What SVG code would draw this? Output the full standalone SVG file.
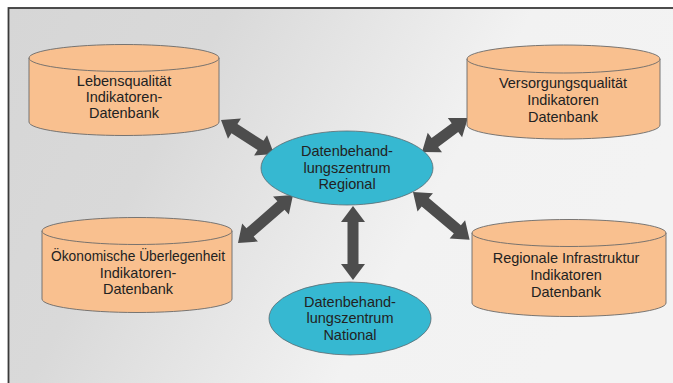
<svg xmlns="http://www.w3.org/2000/svg" width="673" height="383" viewBox="0 0 673 383">
<style>
.cyl{fill:#f9c08f;stroke:#6a6a6a;stroke-width:0.9}
.ell{fill:#36b8d1;stroke:#5a6a70;stroke-width:0.8}
.t{font-family:"Liberation Sans",Arial,sans-serif;font-size:14.5px;fill:#222;text-anchor:middle}
.arr{fill:#4d4d4d}
</style>
<defs>
<linearGradient id="bg" x1="0" y1="0" x2="1" y2="0.3">
<stop offset="0" stop-color="#d6d6d6"/>
<stop offset="0.3" stop-color="#d9d9d9"/>
<stop offset="0.72" stop-color="#f2f2f2"/>
<stop offset="1" stop-color="#f3f3f3"/>
</linearGradient>
</defs>
<rect x="0" y="0" width="673" height="383" fill="#ffffff"/>
<rect x="8.5" y="8" width="670" height="380" fill="url(#bg)" stroke="#3a3a3a" stroke-width="1.8"/>

<g id="connectors">
<path class="arr" transform="translate(221,120) rotate(32.7)" d="M0,0 L16,-12 L16,-5.5 L47,-5.5 L47,-12 L63,0 L47,12 L47,5.5 L16,5.5 L16,12 Z"/>
<path class="arr" transform="translate(422,152) rotate(-36.5)" d="M0,0 L16,-12 L16,-5.5 L41,-5.5 L41,-12 L57,0 L41,12 L41,5.5 L16,5.5 L16,12 Z"/>
<path class="arr" transform="translate(293,195) rotate(138.9)" d="M0,0 L16,-12 L16,-5.5 L57,-5.5 L57,-12 L73,0 L57,12 L57,5.5 L16,5.5 L16,12 Z"/>
<path class="arr" transform="translate(353,206) rotate(90)" d="M0,0 L16,-12 L16,-5.5 L58,-5.5 L58,-12 L74,0 L58,12 L58,5.5 L16,5.5 L16,12 Z"/>
<path class="arr" transform="translate(413,192) rotate(40.1)" d="M0,0 L16,-12 L16,-5.5 L58,-5.5 L58,-12 L74,0 L58,12 L58,5.5 L16,5.5 L16,12 Z"/>
</g>

<g id="lebensqualitaet">
<path class="cyl" d="M29,58 L29,122 A95,13.5 0 0 0 219,122 L219,58 Z"/>
<ellipse class="cyl" cx="124" cy="58" rx="95" ry="13.5"/>
<text class="t" x="124" y="86">Lebensqualität</text>
<text class="t" x="124" y="102">Indikatoren-</text>
<text class="t" x="124" y="118">Datenbank</text>
</g>

<g id="versorgungsqualitaet">
<path class="cyl" d="M467,59 L467,125 A96.5,14 0 0 0 660,125 L660,59 Z"/>
<ellipse class="cyl" cx="563.5" cy="59" rx="96.5" ry="14"/>
<text class="t" x="563" y="88">Versorgungsqualität</text>
<text class="t" x="563" y="105">Indikatoren</text>
<text class="t" x="563" y="122">Datenbank</text>
</g>

<g id="oekonomische">
<path class="cyl" d="M42,231 L42,299 A95,13.5 0 0 0 232,299 L232,231 Z"/>
<ellipse class="cyl" cx="137" cy="231" rx="95" ry="13.5"/>
<text class="t" x="138" y="261" textLength="174" lengthAdjust="spacingAndGlyphs">Ökonomische Überlegenheit</text>
<text class="t" x="138" y="278">Indikatoren-</text>
<text class="t" x="138" y="294">Datenbank</text>
</g>

<g id="infrastruktur">
<path class="cyl" d="M472,233 L472,303 A97,13.5 0 0 0 666,303 L666,233 Z"/>
<ellipse class="cyl" cx="569" cy="233" rx="97" ry="13.5"/>
<text class="t" x="566" y="263">Regionale Infrastruktur</text>
<text class="t" x="566" y="280">Indikatoren</text>
<text class="t" x="566" y="297">Datenbank</text>
</g>

<g id="regional">
<ellipse class="ell" cx="347" cy="168" rx="86" ry="37"/>
<text class="t" x="347" y="156">Datenbehand-</text>
<text class="t" x="347" y="173">lungszentrum</text>
<text class="t" x="347" y="189">Regional</text>
</g>

<g id="national">
<ellipse class="ell" cx="350" cy="318.5" rx="81" ry="36.5"/>
<text class="t" x="350" y="307">Datenbehand-</text>
<text class="t" x="350" y="323">lungszentrum</text>
<text class="t" x="350" y="340">National</text>
</g>
</svg>
